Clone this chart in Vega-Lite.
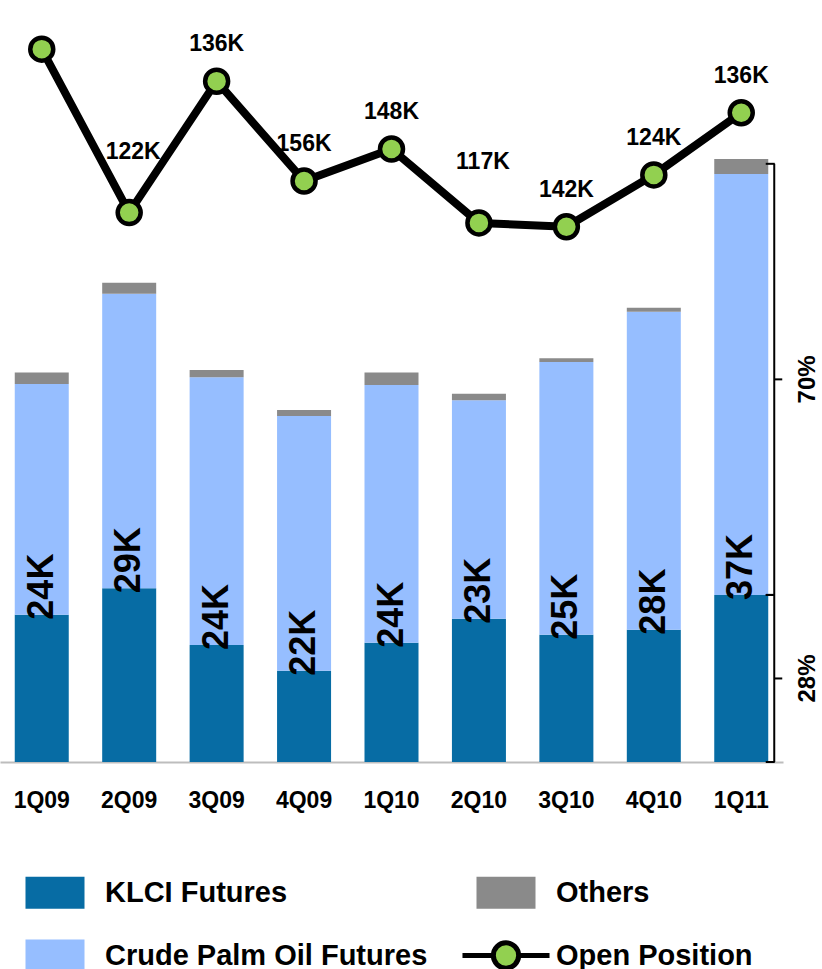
{
  "$schema": "https://vega.github.io/schema/vega-lite/v6.json",
  "autosize": {"type": "none"},
  "width": 783,
  "height": 762,
  "padding": {"left": 0, "top": 0, "right": 39, "bottom": 207},
  "background": "white",
  "config": {
    "view": {"stroke": null},
    "font": "Liberation Sans",
    "text": {"font": "Liberation Sans", "fontWeight": "bold", "color": "black"}
  },
  "data": {
    "values": [
      {"quarter": "1Q09", "KLCI Futures": 9.04, "Crude Palm Oil Futures": 14.15, "Others": 0.71, "open_position": 187.1, "open_position_label": null},
      {"quarter": "2Q09", "KLCI Futures": 10.66, "Crude Palm Oil Futures": 18.07, "Others": 0.67, "open_position": 144.2, "open_position_label": "122K"},
      {"quarter": "3Q09", "KLCI Futures": 7.18, "Crude Palm Oil Futures": 16.42, "Others": 0.45, "open_position": 178.7, "open_position_label": "136K"},
      {"quarter": "4Q09", "KLCI Futures": 5.6, "Crude Palm Oil Futures": 15.63, "Others": 0.37, "open_position": 152.5, "open_position_label": "156K"},
      {"quarter": "1Q10", "KLCI Futures": 7.32, "Crude Palm Oil Futures": 15.81, "Others": 0.77, "open_position": 160.9, "open_position_label": "148K"},
      {"quarter": "2Q10", "KLCI Futures": 8.79, "Crude Palm Oil Futures": 13.4, "Others": 0.41, "open_position": 141.5, "open_position_label": "117K"},
      {"quarter": "3Q10", "KLCI Futures": 7.81, "Crude Palm Oil Futures": 16.73, "Others": 0.23, "open_position": 140.5, "open_position_label": "142K"},
      {"quarter": "4Q10", "KLCI Futures": 8.12, "Crude Palm Oil Futures": 19.5, "Others": 0.25, "open_position": 154.1, "open_position_label": "124K"},
      {"quarter": "1Q11", "KLCI Futures": 10.25, "Crude Palm Oil Futures": 25.83, "Others": 0.92, "open_position": 170.4, "open_position_label": "136K"}
    ]
  },
  "encoding": {
    "x": {
      "field": "quarter",
      "type": "nominal",
      "scale": {
        "domain": ["1Q09", "2Q09", "3Q09", "4Q09", "1Q10", "2Q10", "3Q10", "4Q10", "1Q11"],
        "paddingInner": 0.3824,
        "paddingOuter": 0.1687
      },
      "axis": {
        "title": null,
        "labelAngle": 0,
        "labelFont": "Liberation Sans",
        "labelFontSize": 23,
        "labelFontWeight": "bold",
        "labelColor": "black",
        "labelPadding": 27,
        "ticks": false,
        "tickSize": 0,
        "domainColor": "#BDBDBD",
        "domainWidth": 2,
        "grid": false
      }
    }
  },
  "layer": [
    {
      "layer": [
        {
          "transform": [
            {"fold": ["KLCI Futures", "Crude Palm Oil Futures", "Others"], "as": ["series", "volume"]},
            {"calculate": "indexof(['KLCI Futures', 'Crude Palm Oil Futures', 'Others'], datum.series)", "as": "stack_rank"}
          ],
          "mark": {"type": "bar"},
          "encoding": {
            "y": {
              "field": "volume",
              "type": "quantitative",
              "stack": "zero",
              "scale": {"domain": [0, 46.75], "nice": false, "zero": true},
              "axis": null
            },
            "order": {"field": "stack_rank", "type": "quantitative", "sort": "ascending"},
            "color": {
              "field": "series",
              "type": "nominal",
              "scale": {
                "domain": ["KLCI Futures", "Crude Palm Oil Futures", "Others", "Open Position"],
                "range": ["#076CA4", "#96BEFF", "#8A8A8A", "#92D050"]
              },
              "legend": {
                "title": null,
                "orient": "none",
                "legendX": 40.5,
                "legendY": 878,
                "direction": "vertical",
                "columns": 2,
                "columnPadding": 24,
                "rowPadding": 23,
                "padding": 0,
                "symbolSize": 1024,
                "symbolType": "square",
                "labelFont": "Liberation Sans",
                "labelFontSize": 29,
                "labelFontWeight": "bold",
                "labelColor": "black",
                "labelLimit": 500,
                "labelOffset": 35.5,
                "encode": {
                  "symbols": {
                    "update": {
                      "shape": {"signal": "datum.value === 'Open Position' ? 'M-2.72,0H-0.79M0.79,0H2.72M-0.79,0A0.79,0.79 0 1,1 0.79,0A0.79,0.79 0 1,1 -0.79,0Z' : 'M-1.844,-1H1.844V1H-1.844Z'"},
                      "stroke": {"signal": "datum.value === 'Open Position' ? 'black' : 'transparent'"},
                      "strokeWidth": {"signal": "datum.value === 'Open Position' ? 5 : 0"},
                      "opacity": {"value": 1},
                      "fillOpacity": {"value": 1}
                    }
                  }
                }
              }
            }
          }
        },
        {
          "transform": [
            {"calculate": "datum['KLCI Futures'] + datum['Crude Palm Oil Futures'] + datum['Others']", "as": "total"},
            {"calculate": "format(datum.total, '.0f') + 'K'", "as": "total_label"}
          ],
          "mark": {"type": "text", "angle": 270, "align": "left", "baseline": "middle", "dx": -5, "fontSize": 36, "fontWeight": "bold", "color": "black"},
          "encoding": {
            "y": {"field": "KLCI Futures", "type": "quantitative", "scale": {"domain": [0, 46.75], "nice": false}},
            "text": {"field": "total_label"}
          }
        },
        {
          "data": {
            "values": [
              {"quarter": "1Q11", "share": "28%", "lo": 0, "hi": 10.25},
              {"quarter": "1Q11", "share": "70%", "lo": 10.25, "hi": 36.7}
            ]
          },
          "layer": [
            {
              "mark": {"type": "rule", "xOffset": 33, "strokeWidth": 2, "color": "black"},
              "encoding": {
                "y": {"field": "lo", "type": "quantitative", "scale": {"domain": [0, 46.75], "nice": false}},
                "y2": {"field": "hi"}
              }
            },
            {
              "transform": [{"fold": ["lo", "hi"], "as": ["end", "level"]}],
              "mark": {"type": "tick", "orient": "horizontal", "xOffset": 29, "size": 9, "thickness": 2, "color": "black", "opacity": 1},
              "encoding": {
                "y": {"field": "level", "type": "quantitative", "scale": {"domain": [0, 46.75], "nice": false}}
              }
            },
            {
              "transform": [{"calculate": "(datum.lo + datum.hi) / 2", "as": "mid"}],
              "layer": [
                {
                  "mark": {"type": "tick", "orient": "horizontal", "xOffset": 37, "size": 8, "thickness": 2, "color": "black", "opacity": 1},
                  "encoding": {
                    "y": {"field": "mid", "type": "quantitative", "scale": {"domain": [0, 46.75], "nice": false}}
                  }
                },
                {
                  "mark": {"type": "text", "xOffset": 67, "angle": 270, "align": "center", "baseline": "middle", "fontSize": 24, "fontWeight": "bold", "color": "black"},
                  "encoding": {
                    "y": {"field": "mid", "type": "quantitative", "scale": {"domain": [0, 46.75], "nice": false}},
                    "text": {"field": "share"}
                  }
                }
              ]
            }
          ]
        }
      ]
    },
    {
      "layer": [
        {
          "mark": {"type": "line", "color": "black", "strokeWidth": 8, "strokeJoin": "round"},
          "encoding": {
            "y": {"field": "open_position", "type": "quantitative", "scale": {"domain": [0, 200], "nice": false}, "axis": null}
          }
        },
        {
          "mark": {"type": "point", "filled": true, "fill": "#92D050", "stroke": "black", "strokeWidth": 4.5, "size": 529, "opacity": 1},
          "encoding": {
            "y": {"field": "open_position", "type": "quantitative"}
          }
        },
        {
          "transform": [{"filter": "datum.open_position_label != null && datum.quarter !== '2Q09' && datum.quarter !== '2Q10'"}],
          "mark": {"type": "text", "dy": -37, "fontSize": 23, "fontWeight": "bold", "baseline": "middle", "color": "black"},
          "encoding": {
            "y": {"field": "open_position", "type": "quantitative"},
            "text": {"field": "open_position_label"}
          }
        },
        {
          "transform": [{"filter": "datum.quarter === '2Q09' || datum.quarter === '2Q10'"}],
          "mark": {"type": "text", "dy": -61, "dx": 4, "fontSize": 23, "fontWeight": "bold", "baseline": "middle", "color": "black"},
          "encoding": {
            "y": {"field": "open_position", "type": "quantitative"},
            "text": {"field": "open_position_label"}
          }
        }
      ]
    }
  ],
  "resolve": {"scale": {"y": "independent"}}
}
